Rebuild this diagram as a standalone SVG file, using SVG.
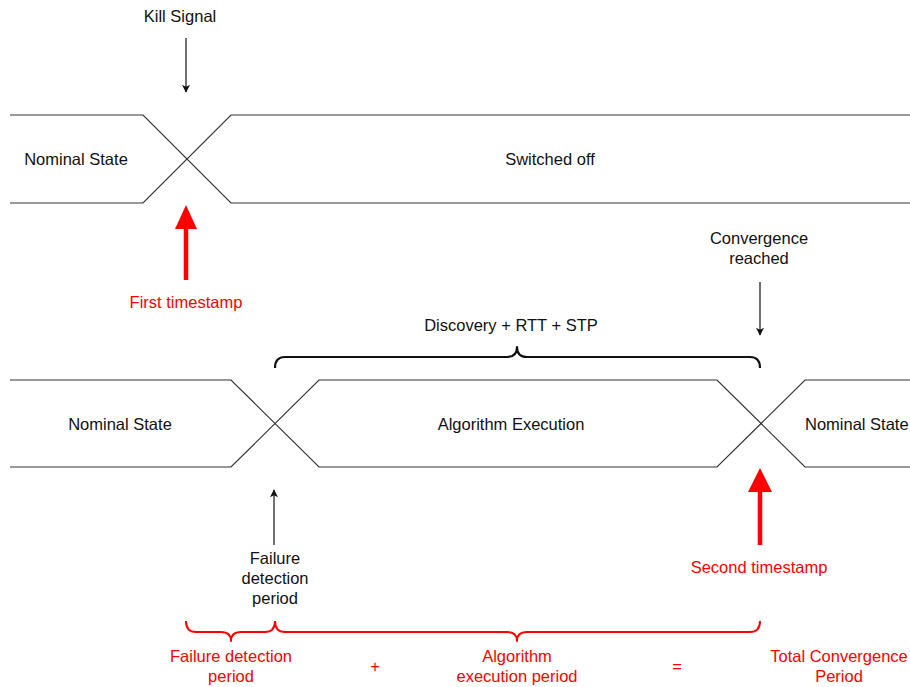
<svg xmlns="http://www.w3.org/2000/svg" width="910" height="687" viewBox="0 0 910 687">
  <style>
    .band { fill: none; stroke: #333; stroke-width: 1.2; }
    .lbl { font-family: "Liberation Sans", Arial, Helvetica, sans-serif; font-size: 16.5px; fill: #111; text-anchor: middle; }
    .red { fill: #ff0000; }
    .arrow { stroke: #111; stroke-width: 1.2; fill: none; }
    .brace { fill: none; stroke: #111; stroke-width: 2.2; stroke-linejoin: round; }
    .rbrace { fill: none; stroke: #ff0000; stroke-width: 2; stroke-linejoin: round; }
    .redarrow { stroke: #ff0000; stroke-width: 4.5; fill: none; }
  </style>
  <defs>
    <marker id="tip" viewBox="0 0 10 10" refX="9" refY="5" markerWidth="8" markerHeight="8" markerUnits="userSpaceOnUse" orient="auto">
      <path d="M0,0 L10,5 L0,10 L2.5,5 z" fill="#111"/>
    </marker>
  </defs>
  <rect width="910" height="687" fill="#ffffff"/>

  <!-- upper timeline: nominal state switching to off -->
  <g id="timeline-top">
    <path class="band" d="M10,115 H143 L231,203 H910"/>
    <path class="band" d="M10,203 H143 L231,115 H910"/>
    <text class="lbl" x="76" y="165">Nominal State</text>
    <text class="lbl" x="550" y="165">Switched off</text>
  </g>

  <!-- lower timeline: nominal, algorithm execution, nominal -->
  <g id="timeline-bottom">
    <path class="band" d="M10,380 H231 L319,467 H717 L805,380 H910"/>
    <path class="band" d="M10,467 H231 L319,380 H717 L805,467 H910"/>
    <text class="lbl" x="120" y="430">Nominal State</text>
    <text class="lbl" x="511" y="430">Algorithm Execution</text>
    <text class="lbl" x="805" y="430" style="text-anchor:start">Nominal State</text>
  </g>

  <g id="kill-signal">
    <text class="lbl" x="180" y="22">Kill Signal</text>
  </g>

  <g id="first-timestamp">
    <text class="lbl red" x="186" y="308">First timestamp</text>
  </g>

  <g id="convergence-reached">
    <text class="lbl" x="759" y="244">Convergence</text>
    <text class="lbl" x="759" y="264">reached</text>
  </g>

  <g id="discovery">
    <text class="lbl" x="511" y="331">Discovery + RTT + STP</text>
    <path class="brace" d="M275,368 Q275,357 285,357 H507 Q517,357 517,347 Q517,357 527,357 H750 Q760,357 760,368"/>
  </g>

  <g id="failure-detection">
    <text class="lbl" x="275" y="564">Failure</text>
    <text class="lbl" x="275" y="584">detection</text>
    <text class="lbl" x="275" y="604">period</text>
  </g>

  <g id="second-timestamp">
    <text class="lbl red" x="759" y="573">Second timestamp</text>
  </g>

  <g id="equation">
    <path class="rbrace" d="M186,621 Q186,632 196,632 H221 Q231,632 231,641 Q231,632 241,632 H265 Q275,632 275,621"/>
    <path class="rbrace" d="M275,621 Q275,632 285,632 H507 Q517,632 517,641 Q517,632 527,632 H750 Q760,632 760,621"/>
    <text class="lbl red" x="231" y="662">Failure detection</text>
    <text class="lbl red" x="231" y="682">period</text>
    <text class="lbl red" x="375" y="672">+</text>
    <text class="lbl red" x="517" y="662">Algorithm</text>
    <text class="lbl red" x="517" y="682">execution period</text>
    <text class="lbl red" x="677" y="672">=</text>
    <text class="lbl red" x="839" y="662">Total Convergence</text>
    <text class="lbl red" x="839" y="682">Period</text>
  </g>

  <!-- connectors -->
  <g id="connectors">
    <line class="arrow" x1="186" y1="38" x2="186" y2="92" marker-end="url(#tip)"/>
    <line class="arrow" x1="760" y1="282" x2="760" y2="335" marker-end="url(#tip)"/>
    <line class="arrow" x1="274" y1="545" x2="274" y2="490" marker-end="url(#tip)"/>
    <line class="redarrow" x1="186" y1="280" x2="186" y2="225"/>
    <path class="red" d="M175,229 L186,205 L197,229 Z"/>
    <line class="redarrow" x1="760" y1="545" x2="760" y2="488"/>
    <path class="red" d="M748,492 L760,468 L772,492 Z"/>
  </g>
</svg>
